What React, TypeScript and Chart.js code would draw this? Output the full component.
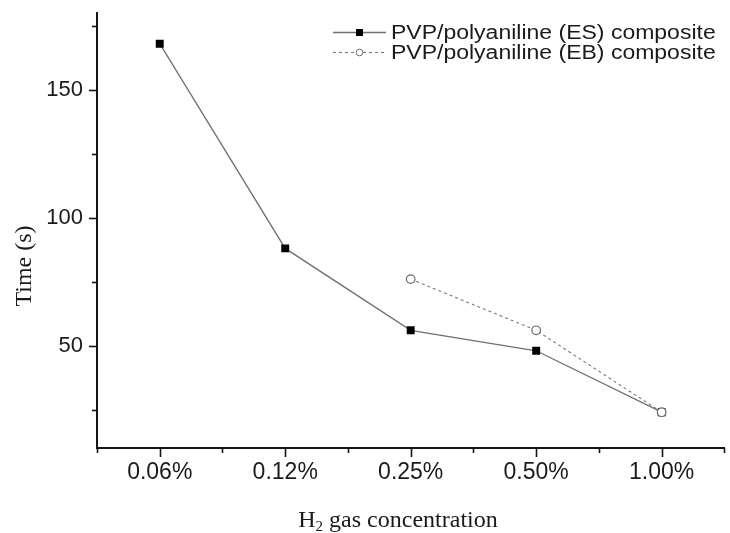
import React, { useEffect, useRef } from 'react';
import { Chart, registerables } from 'chart.js';

Chart.register(...registerables);

const CATEGORIES = ['0.06%', '0.12%', '0.25%', '0.50%', '1.00%'];
const ES_VALUES = [168, 88, 56, 48, 24];
const EB_VALUES = [null, null, 76, 56, 24];
const Y_TICKS = [25, 50, 75, 100, 125, 150, 175];
const Y_LABELED = [50, 100, 150];
const SERIES_NAMES = ['PVP/polyaniline (ES) composite', 'PVP/polyaniline (EB) composite'];
const Y_TITLE = 'Time (s)';
const X_TITLE_MAIN = 'H';
const X_TITLE_SUB = '2';
const X_TITLE_REST = ' gas concentration';

const SANS = '"Liberation Sans", Arial, sans-serif';
const SERIF = '"Liberation Serif", "Times New Roman", serif';
const AXIS_COLOR = '#151515';
const TEXT_COLOR = '#1a1a1a';

const tickPlugin = {
  id: 'customTicks',
  afterDraw(chart: any) {
    const ctx = chart.ctx;
    const x = chart.scales.x;
    const y = chart.scales.y;
    const area = chart.chartArea;
    ctx.save();
    ctx.strokeStyle = AXIS_COLOR;
    ctx.lineWidth = 1.6;
    for (let i = 0; i < CATEGORIES.length; i++) {
      const px = Math.round(x.getPixelForValue(i)) + 0.5;
      ctx.beginPath();
      ctx.moveTo(px, area.bottom);
      ctx.lineTo(px, area.bottom + 9);
      ctx.stroke();
    }
    for (let i = 0; i <= CATEGORIES.length; i++) {
      const px = Math.round(x.getPixelForValue(i - 0.5)) + 0.5;
      ctx.beginPath();
      ctx.moveTo(px, area.bottom);
      ctx.lineTo(px, area.bottom + 5);
      ctx.stroke();
    }
    for (const v of Y_TICKS) {
      const py = Math.round(y.getPixelForValue(v)) + 0.5;
      const len = Y_LABELED.includes(v) ? 8 : 5;
      ctx.beginPath();
      ctx.moveTo(area.left, py);
      ctx.lineTo(area.left - len, py);
      ctx.stroke();
    }
    ctx.restore();
  },
};

const titlePlugin = {
  id: 'customTitles',
  afterDraw(chart: any) {
    const ctx = chart.ctx;
    ctx.save();
    ctx.fillStyle = TEXT_COLOR;
    ctx.font = `24px ${SERIF}`;
    ctx.translate(31, 266);
    ctx.rotate(-Math.PI / 2);
    ctx.textAlign = 'center';
    ctx.textBaseline = 'alphabetic';
    ctx.fillText(Y_TITLE, 0, 0);
    ctx.restore();

    ctx.save();
    ctx.fillStyle = TEXT_COLOR;
    ctx.textBaseline = 'alphabetic';
    ctx.textAlign = 'left';
    const big = `24px ${SERIF}`;
    const small = `15px ${SERIF}`;
    ctx.font = big;
    const w1 = ctx.measureText(X_TITLE_MAIN).width;
    const w3 = ctx.measureText(X_TITLE_REST).width;
    ctx.font = small;
    const w2 = ctx.measureText(X_TITLE_SUB).width;
    const total = w1 + w2 + w3;
    const cx = 398;
    const base = 527;
    let sx = cx - total / 2;
    ctx.font = big;
    ctx.fillText(X_TITLE_MAIN, sx, base);
    sx += w1;
    ctx.font = small;
    ctx.fillText(X_TITLE_SUB, sx, base + 4);
    sx += w2;
    ctx.font = big;
    ctx.fillText(X_TITLE_REST, sx, base);
    ctx.restore();
  },
};

const legendPlugin = {
  id: 'customLegend',
  afterDraw(chart: any) {
    const ctx = chart.ctx;
    const rows = [32, 52];
    ctx.save();
    chart.data.datasets.forEach((ds: any, i: number) => {
      const yy = rows[i];
      ctx.strokeStyle = ds.borderColor;
      ctx.lineWidth = ds.borderWidth;
      ctx.setLineDash(ds.borderDash || []);
      ctx.beginPath();
      ctx.moveTo(333, yy + 0.5);
      ctx.lineTo(386, yy + 0.5);
      ctx.stroke();
      ctx.setLineDash([]);
      if (ds.pointStyle === 'rect') {
        ctx.fillStyle = ds.pointBackgroundColor;
        ctx.fillRect(356, yy - 3, 7, 7);
      } else {
        ctx.fillStyle = ds.pointBackgroundColor;
        ctx.strokeStyle = ds.pointBorderColor;
        ctx.lineWidth = 1;
        ctx.beginPath();
        ctx.arc(359.5, yy + 0.5, 3.3, 0, Math.PI * 2);
        ctx.fill();
        ctx.stroke();
      }
      ctx.save();
      ctx.fillStyle = TEXT_COLOR;
      ctx.font = `20px ${SANS}`;
      ctx.textAlign = 'left';
      ctx.textBaseline = 'middle';
      ctx.translate(391, yy + 1);
      ctx.scale(1.15, 1);
      ctx.fillText(SERIES_NAMES[i], 0, 0);
      ctx.restore();
    });
    ctx.restore();
  },
};

export default function App() {
  const canvasRef = useRef<HTMLCanvasElement | null>(null);

  useEffect(() => {
    const canvas = canvasRef.current;
    if (!canvas) return;
    const chart = new Chart(canvas, {
      type: 'line',
      data: {
        labels: CATEGORIES,
        datasets: [
          {
            label: SERIES_NAMES[0],
            data: ES_VALUES,
            borderColor: '#707070',
            borderWidth: 1.3,
            pointStyle: 'rect',
            pointRadius: 5.6,
            pointBackgroundColor: '#000000',
            pointBorderColor: '#000000',
            pointBorderWidth: 0,
            tension: 0,
            order: 2,
          } as any,
          {
            label: SERIES_NAMES[1],
            data: EB_VALUES,
            borderColor: '#7a7a7a',
            borderWidth: 1.1,
            borderDash: [3, 3],
            pointStyle: 'circle',
            pointRadius: 4.3,
            pointBackgroundColor: '#ffffff',
            pointBorderColor: '#6a6a6a',
            pointBorderWidth: 1.2,
            tension: 0,
            spanGaps: false,
            order: 1,
          } as any,
        ],
      },
      options: {
        responsive: false,
        animation: false,
        layout: { padding: { top: 13, right: 2, left: 0, bottom: 0 } },
        plugins: {
          legend: { display: false },
          tooltip: { enabled: false },
          title: { display: false },
        },
        scales: {
          x: {
            type: 'category',
            offset: true,
            grid: {
              display: true,
              drawOnChartArea: false,
              drawTicks: true,
              tickLength: 9,
              color: 'rgba(0,0,0,0)',
            },
            border: { display: true, color: AXIS_COLOR, width: 2 },
            ticks: {
              font: { family: SANS, size: 23 },
              color: TEXT_COLOR,
              padding: 2,
              maxRotation: 0,
              autoSkip: false,
            },
            afterFit: (scale: any) => {
              scale.height = 85;
              scale.paddingLeft = 0;
              scale.paddingRight = 0;
            },
          },
          y: {
            type: 'linear',
            min: 10,
            max: 180,
            afterBuildTicks: (scale: any) => {
              scale.ticks = Y_TICKS.map((v) => ({ value: v }));
            },
            grid: {
              display: true,
              drawOnChartArea: false,
              drawTicks: true,
              tickLength: 8,
              color: 'rgba(0,0,0,0)',
            },
            border: { display: true, color: AXIS_COLOR, width: 2 },
            ticks: {
              font: { family: SANS, size: 22 },
              color: TEXT_COLOR,
              padding: 6,
              autoSkip: false,
              callback: (v: any) => (Y_LABELED.includes(Number(v)) ? String(v) : ''),
            },
            afterFit: (scale: any) => {
              scale.width = 97;
              scale.paddingTop = 0;
              scale.paddingBottom = 0;
            },
          },
        },
      } as any,
      plugins: [tickPlugin, titlePlugin, legendPlugin],
    });
    return () => chart.destroy();
  }, []);

  return (
    <div style={{ position: 'fixed', left: 0, top: 0, width: 730, height: 533, background: '#fff' }}>
      <canvas ref={canvasRef} width={730} height={533} style={{ display: 'block' }} />
    </div>
  );
}
